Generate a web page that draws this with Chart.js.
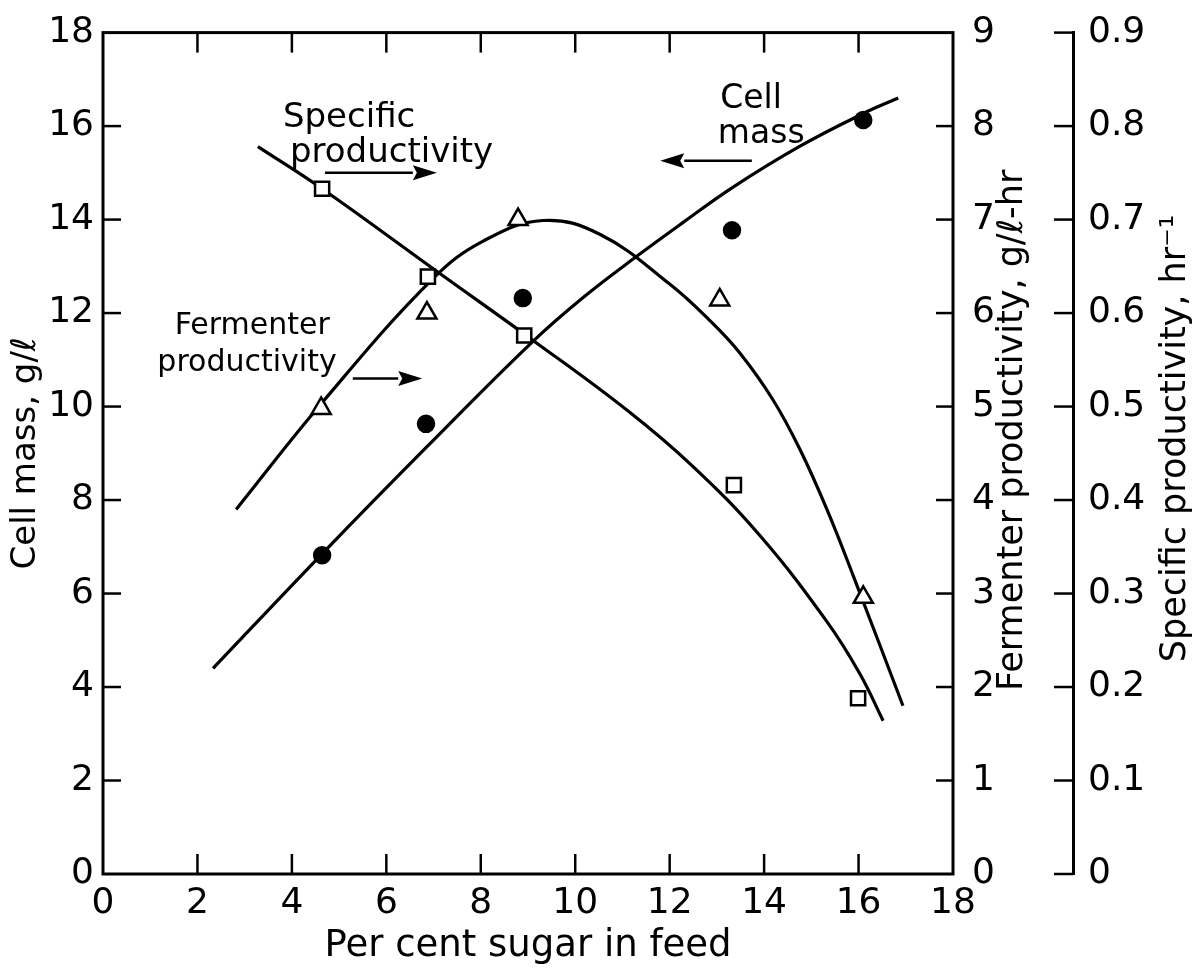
<!DOCTYPE html>
<html>
<head>
<meta charset="utf-8">
<script src="https://cdn.jsdelivr.net/npm/chart.js@4/dist/chart.umd.min.js"></script>
<style>
  html, body { margin: 0; padding: 0; background: #fff; }
  #wrap { width: 1201px; height: 970px; }
</style>
</head>
<body>
<div id="wrap"><canvas id="chart" width="1201" height="970"></canvas></div>
<script>
'use strict';

// tick values for the four axes
var sugarTicks = [0, 2, 4, 6, 8, 10, 12, 14, 16, 18];
var cellMassTicks = [0, 2, 4, 6, 8, 10, 12, 14, 16, 18];
var fermTicks = [0, 1, 2, 3, 4, 5, 6, 7, 8, 9];
var specTicks = [0, 0.1, 0.2, 0.3, 0.4, 0.5, 0.6, 0.7, 0.8, 0.9];

// measured points
var cellMassX = [4.64, 6.84, 8.89, 13.32, 16.1];
var cellMassY = [6.82, 9.63, 12.32, 13.77, 16.13];
var fermX = [4.62, 6.86, 8.79, 13.06, 16.1];
var fermY = [4.98, 6.0, 7.0, 6.14, 2.96];
var specX = [4.64, 6.88, 8.92, 13.36, 15.99];
var specY = [0.733, 0.639, 0.576, 0.416, 0.188];

// hand drawn curves
var cellCurveX = [2.33, 4.64, 6.84, 9.1, 10.2, 11.31, 12.3, 13.32, 14.76, 16.1, 16.84];
var cellCurveY = [4.4, 6.85, 9.12, 11.39, 12.36, 13.22, 13.95, 14.68, 15.57, 16.27, 16.6];
var fermCurveX = [2.82, 4.62, 6.97, 8.05, 9.32, 10.53, 12.0, 12.85, 13.49, 14.19, 14.76, 15.33, 15.88, 16.94];
var fermCurveY = [3.9, 5.03, 6.36, 6.77, 6.99, 6.84, 6.31, 5.92, 5.57, 5.07, 4.54, 3.9, 3.2, 1.8];
var specCurveX = [3.28, 4.64, 7.14, 9.1, 11.1, 12.49, 13.91, 15.33, 16.03, 16.52];
var specCurveY = [0.778, 0.733, 0.642, 0.571, 0.496, 0.436, 0.362, 0.27, 0.214, 0.164];

var FONT = "'DejaVu Sans', sans-serif";

var toXY = function(xs, ys) {
  return xs.map(function(x, i) { return { x: x, y: ys[i] }; });
};

var fixTicks = function(values) {
  return function(scale) {
    scale.ticks = values.map(function(v) { return { value: v }; });
  };
};

// labels inside the plot, placed in cell mass / sugar units
var notes = [
  ['Specific', 3.81, 15.98, 34, 'left'],
  ['productivity', 3.96, 15.24, 34, 'left'],
  ['Cell', 13.07, 16.38, 33, 'left'],
  ['mass', 13.02, 15.64, 33, 'left'],
  ['Fermenter', 3.16, 11.56, 30, 'center'],
  ['productivity', 3.05, 10.75, 30, 'center']
];
var arrows = [
  [4.70, 7.07, 15.0],
  [13.74, 11.80, 15.26],
  [5.29, 6.76, 10.6]
];

var framePlugin = {
  id: 'framePlugin',
  afterDraw: function(chart) {
    var ctx = chart.ctx,
      a = chart.chartArea,
      s = chart.scales;

    var tick = function(x1, y1, x2, y2) {
      ctx.beginPath();
      ctx.moveTo(x1, y1);
      ctx.lineTo(x2, y2);
      ctx.stroke();
    };

    ctx.save();
    ctx.strokeStyle = '#000';
    ctx.fillStyle = '#000';
    ctx.lineWidth = 3;
    ctx.strokeRect(a.left, a.top, a.right - a.left, a.bottom - a.top);

    ctx.lineWidth = 2.5;
    sugarTicks.forEach(function(v) {
      if (v === 0 || v === 18) return;
      var px = s.x.getPixelForValue(v);
      tick(px, a.bottom, px, a.bottom - 20);
      tick(px, a.top, px, a.top + 20);
    });
    cellMassTicks.forEach(function(v) {
      if (v === 0 || v === 18) return;
      var py = s.y.getPixelForValue(v);
      tick(a.left, py, a.left + 18, py);
    });
    fermTicks.forEach(function(v) {
      if (v === 0 || v === 9) return;
      var py = s.y2.getPixelForValue(v);
      tick(a.right, py, a.right - 17, py);
    });
    specTicks.forEach(function(v) {
      var py = s.y3.getPixelForValue(v);
      tick(s.y3.left, py, s.y3.left - 19, py);
    });

    // right hand titles read bottom to top
    var vtext = function(str, x, y, size) {
      ctx.save();
      ctx.translate(x, y);
      ctx.rotate(-Math.PI / 2);
      ctx.font = size + 'px ' + FONT;
      ctx.textAlign = 'center';
      ctx.textBaseline = 'alphabetic';
      ctx.fillText(str, 0, 0);
      ctx.restore();
    };
    var midY = (a.top + a.bottom) / 2;
    vtext('Fermenter productivity, g/\u2113-hr', s.y2.left + 69, midY - 23, 35);
    vtext('Specific productivity, hr\u207B\u00B9', s.y3.left + 112, midY - 15, 35);

    notes.forEach(function(n) {
      ctx.font = n[3] + 'px ' + FONT;
      ctx.textAlign = n[4];
      ctx.textBaseline = 'alphabetic';
      ctx.fillText(n[0], s.x.getPixelForValue(n[1]), s.y.getPixelForValue(n[2]));
    });

    ctx.lineWidth = 2.5;
    arrows.forEach(function(ar) {
      var x1 = s.x.getPixelForValue(ar[0]),
        x2 = s.x.getPixelForValue(ar[1]),
        py = s.y.getPixelForValue(ar[2]),
        dir = x2 > x1 ? 1 : -1,
        head = 24;
      tick(x1, py, x2 - dir * head, py);
      ctx.beginPath();
      ctx.moveTo(x2, py);
      ctx.lineTo(x2 - dir * head, py - 7.5);
      ctx.lineTo(x2 - dir * (head - 4), py);
      ctx.lineTo(x2 - dir * head, py + 7.5);
      ctx.closePath();
      ctx.fill();
    });
    ctx.restore();
  }
};

var curve = function(xs, ys, axis) {
  return {
    data: toXY(xs, ys),
    yAxisID: axis,
    borderColor: '#000',
    borderWidth: 3.2,
    pointRadius: 0,
    fill: false,
    tension: 0.4,
    order: 2
  };
};

var marks = function(xs, ys, axis, style, radius, fillColor) {
  return {
    data: toXY(xs, ys),
    yAxisID: axis,
    showLine: false,
    pointStyle: style,
    pointRadius: radius,
    pointHoverRadius: radius,
    pointBackgroundColor: fillColor,
    pointBorderColor: '#000',
    pointBorderWidth: 2.5,
    order: 1
  };
};

Chart.defaults.font.family = FONT;
Chart.defaults.color = '#000';

new Chart(document.getElementById('chart'), {
  type: 'line',
  data: {
    datasets: [
      curve(cellCurveX, cellCurveY, 'y'),
      curve(fermCurveX, fermCurveY, 'y2'),
      curve(specCurveX, specCurveY, 'y3'),
      marks(cellMassX, cellMassY, 'y', 'circle', 8, '#000'),
      marks(fermX, fermY, 'y2', 'triangle', 11, '#fff'),
      marks(specX, specY, 'y3', 'rect', 10, '#fff')
    ]
  },
  options: {
    responsive: false,
    animation: false,
    events: [],
    layout: { padding: { top: 27, left: 0, right: 0, bottom: 0 } },
    plugins: { legend: { display: false }, tooltip: { enabled: false } },
    scales: {
      x: {
        type: 'linear',
        min: 0,
        max: 18,
        afterBuildTicks: fixTicks(sugarTicks),
        afterFit: function(scale) { scale.height = 96; },
        grid: { display: false },
        border: { display: false },
        ticks: { font: { size: 36 }, padding: 0, maxRotation: 0 },
        title: { display: true, text: 'Per cent sugar in feed', font: { size: 37 }, padding: { top: 0, bottom: 1 } }
      },
      y: {
        position: 'left',
        min: 0,
        max: 18,
        afterBuildTicks: fixTicks(cellMassTicks),
        afterFit: function(scale) { scale.width = 103; },
        grid: { display: false },
        border: { display: false },
        ticks: { font: { size: 36 }, padding: 1 },
        title: { display: true, text: 'Cell mass, g/\u2113', font: { size: 34 }, padding: { top: 6, bottom: 0 } }
      },
      y2: {
        position: 'right',
        weight: 0,
        min: 0,
        max: 9,
        afterBuildTicks: fixTicks(fermTicks),
        afterFit: function(scale) { scale.width = 120; },
        grid: { display: false },
        border: { display: false },
        ticks: { font: { size: 36 }, padding: 11 }
      },
      y3: {
        position: 'right',
        weight: 1,
        min: 0,
        max: 0.9,
        afterBuildTicks: fixTicks(specTicks),
        afterFit: function(scale) { scale.width = 128; },
        grid: { display: false },
        border: { display: true, color: '#000', width: 3 },
        ticks: {
          font: { size: 36 },
          padding: 7,
          callback: function(v) { return v === 0 ? '0' : v.toFixed(1); }
        }
      }
    }
  },
  plugins: [framePlugin]
});
</script>
</body>
</html>
